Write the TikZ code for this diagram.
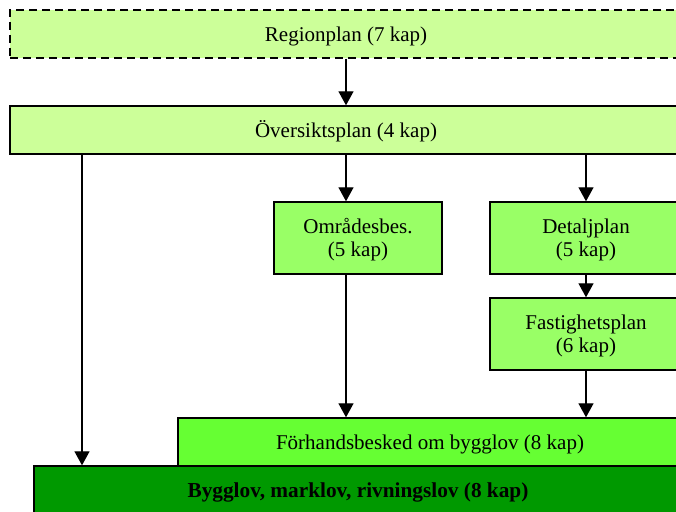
\documentclass[tikz,border=0pt]{standalone}
\usepackage{fontspec}
\setmainfont{Liberation Serif}
\usetikzlibrary{arrows.meta}
\definecolor{pale}{HTML}{CCFF99}
\definecolor{mid}{HTML}{99FF66}
\definecolor{bright}{HTML}{66FF33}
\definecolor{dark}{HTML}{009900}
\newcommand\tworows[2]{\raisebox{-2pt}[\height][\depth]{\begin{tabular}{@{}c@{}}#1\\#2\end{tabular}}}
\begin{document}
\begin{tikzpicture}[x=1pt,y=-1pt,
  box/.style={draw=black, line width=1.4pt, inner sep=0pt,
    font=\fontsize{21}{23}\selectfont},
  onerow/.style={text height=20pt, text depth=4.5pt},
  arr/.style={line width=1.3pt, -{Triangle[length=14pt,width=15pt]}}]
\useasboundingbox (0,0) rectangle (676,511);
\clip (0,0) rectangle (676,511);
\node[box, onerow, fill=pale, dash pattern=on 8pt off 5pt, minimum width=672pt, minimum height=48pt] (region) at (346,34) {Regionplan (7 kap)};
\node[box, onerow, fill=pale, minimum width=672pt, minimum height=48pt] (over) at (346,130) {Översiktsplan (4 kap)};
\node[box, fill=mid, minimum width=168pt, minimum height=72pt] (ombes) at (358,238) {\tworows{Områdesbes.}{(5 kap)}};
\node[box, fill=mid, minimum width=192pt, minimum height=72pt] (detalj) at (586,238) {\tworows{Detaljplan}{(5 kap)}};
\node[box, fill=mid, minimum width=192pt, minimum height=72pt] (fast) at (586,334) {\tworows{Fastighetsplan}{(6 kap)}};
\node[box, onerow, fill=bright, minimum width=504pt, minimum height=48pt] (forh) at (430,442) {Förhandsbesked om bygglov (8 kap)};
\node[box, onerow, fill=dark, minimum width=648pt, minimum height=48pt, font=\fontsize{21.3}{23}\selectfont\bfseries] (bygg) at (358,490) {Bygglov, marklov, rivningslov (8 kap)};
\coordinate (left) at (82,0);
\draw[arr] (region.south) -- (over.north);
\draw[arr] (over.south) -- (over.south |- ombes.north);
\draw[arr] (detalj.north |- over.south) -- (detalj.north);
\draw[arr] (detalj.south) -- (fast.north);
\draw[arr] (fast.south) -- (fast.south |- forh.north);
\draw[arr] (over.south |- ombes.south) -- (over.south |- forh.north);
\draw[arr] (left |- over.south) -- (left |- bygg.north);
\end{tikzpicture}
\end{document}
